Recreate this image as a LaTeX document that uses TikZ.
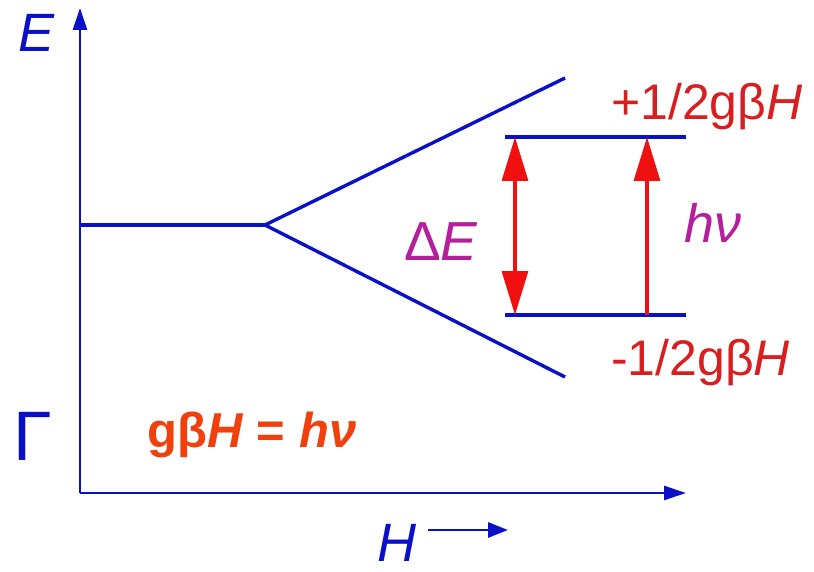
\documentclass[tikz,border=0pt]{standalone}
\usepackage{fontspec}
\setmainfont{Liberation Sans}
\definecolor{zblue}{HTML}{0A10C8}
\definecolor{zred}{HTML}{F01010}
\definecolor{zlabel}{HTML}{D81E1E}
\definecolor{zmagenta}{HTML}{B4209C}
\definecolor{zorange}{HTML}{F0400C}
\usetikzlibrary{arrows.meta, positioning}

\begin{document}
\begin{tikzpicture}[
  x=1pt, y=-1pt,
  axis/.style={line width=2.8pt, color=zblue,
               -{Triangle[length=22pt, width=14pt]}},
  level/.style={line width=3.4pt, color=zblue},
  trans/.style={line width=3.2pt, color=zred},
  lbl/.style={anchor=base west, inner sep=0pt, font=\fontsize{50}{52}\selectfont},
  axlbl/.style={lbl, color=zblue, font=\fontsize{54}{56}\selectfont\itshape}
]
  \useasboundingbox (0,0) rectangle (814,572);

  % axes
  \coordinate (origin) at (80,493);
  \coordinate (etop)   at (80,8);
  \coordinate (hend)   at (686,493);
  \draw[axis] (origin) -- (etop);
  \draw[axis] (origin) -- (hend);

  \node[axlbl] (elabel) at (18,52) {E};
  \node[axlbl] (hlabel) at (377,561) {H};
  \coordinate (hstart) at (428,530);
  \coordinate (hstop)  at (508,530);
  \draw[line width=2.8pt, color=zblue,
        -{Triangle[length=20pt, width=15pt]}] (hstart) -- (hstop);
  \node[lbl, color=zblue, font=\fontsize{70}{72}\selectfont] (gamma)
    at (13,460) {Γ};

  % zero field level and splitting
  \coordinate (zf)    at (80,225);
  \coordinate (split) at (265,225);
  \coordinate (upend) at (565,78);
  \coordinate (loend) at (565,377);
  \draw[level] (zf) -- (split);
  \draw[level] (split) -- (upend);
  \draw[level] (split) -- (loend);

  % resonance levels
  \coordinate (upl) at (505,137);
  \coordinate (upr) at (686,137);
  \coordinate (lol) at (505,315);
  \coordinate (lor) at (686,315);
  \draw[level] (upl) -- (upr);
  \draw[level] (lol) -- (lor);

  % transitions
  \coordinate (detop) at (515,137);
  \coordinate (debot) at (515,315);
  \coordinate (hvtop) at (647,137);
  \coordinate (hvbot) at (647,315);
  \draw[trans, {Triangle[length=44pt, width=26pt]}-{Triangle[length=44pt, width=26pt]}]
    (detop) -- (debot);
  \draw[trans, -{Triangle[length=44pt, width=26pt]}] (hvbot) -- (hvtop);

  % labels
  \node[lbl, color=zmagenta, font=\fontsize{55}{57}\selectfont] (delta)
    at (404,260) {Δ\textit{E}};
  \node[lbl, color=zmagenta, font=\fontsize{54}{56}\selectfont\itshape] (hnu)
    at (684,243) {hν};
  \node[lbl, color=zlabel] (plus) at (611,120) {+1/2gβ\textit{H}};
  \node[lbl, color=zlabel] (minus) at (611,375) {-1/2gβ\textit{H}};
  \node[lbl, color=zorange, font=\fontsize{49}{51}\selectfont\bfseries] (reson)
    at (147,447) {gβ\textit{H} = \textit{hν}};
\end{tikzpicture}
\end{document}
